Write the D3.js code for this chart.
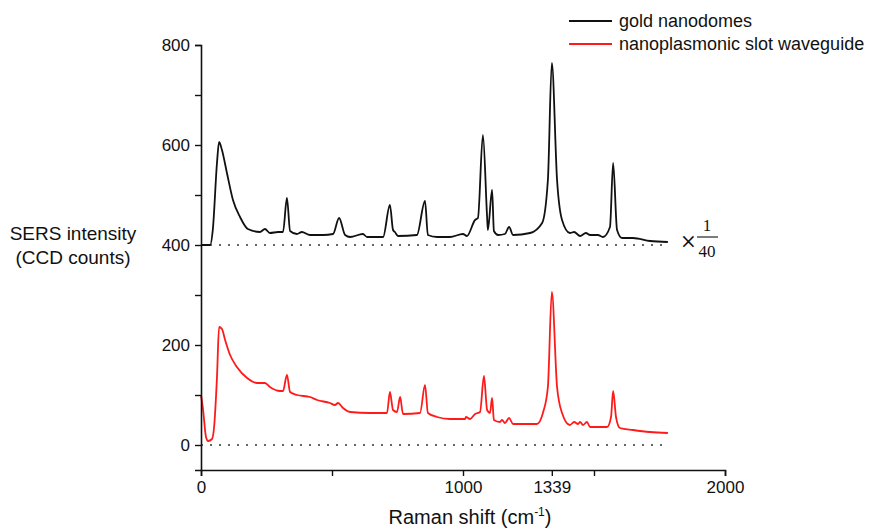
<!DOCTYPE html>
<html>
<head>
<meta charset="utf-8">
<script src="https://cdn.jsdelivr.net/npm/d3@7"></script>
<style>
    body { margin: 0; background: #fff; }
    text { font-family: "Liberation Sans", Arial, sans-serif; fill: #111; }
</style>
</head>
<body>
<svg id="vis-container"></svg>
<script>
const WIDTH = 872
const HEIGHT = 532
const CONTAINER = d3.select("#vis-container")

// gold nanodomes, plotted as 400 + counts / 40
const goldShift = [0, 35, 45, 61, 69, 80, 99, 122, 149, 179, 225, 244, 263, 294, 313, 328, 340, 366, 385, 416, 466, 504, 527, 550, 569,
    618, 634, 695, 721, 733, 740, 752, 824, 855, 866, 901, 950, 1000, 1015, 1046, 1057, 1076, 1092, 1095, 1111, 1118, 1134, 1160, 1176, 1191,
    1256, 1302, 1324, 1339, 1359, 1378, 1408, 1424, 1447, 1469, 1485, 1515, 1534, 1561, 1573, 1588, 1607, 1649, 1714, 1782]
const goldValue = [400, 400, 430, 564, 606, 590, 544, 490, 456, 432, 426, 432, 424, 426, 426, 494, 428, 422, 426, 420, 420, 422, 454, 420, 416,
    422, 416, 416, 480, 430, 426, 418, 420, 488, 420, 416, 416, 422, 418, 450, 454, 620, 456, 430, 510, 428, 420, 422, 436, 420,
    424, 444, 530, 764, 530, 450, 424, 426, 418, 424, 420, 420, 416, 436, 564, 430, 414, 414, 408, 406]

// nanoplasmonic slot waveguide
const slotShift = [0, 8, 19, 27, 42, 50, 61, 69, 80, 92, 111, 137, 176, 214, 244, 263, 302, 313, 328, 340, 366, 416, 443, 492, 511, 523, 542, 569,
    645, 710, 721, 733, 748, 760, 771, 836, 855, 866, 901, 950, 1008, 1011, 1027, 1046, 1065, 1080, 1092, 1103, 1111, 1118,
    1141, 1149, 1160, 1176, 1191, 1282, 1305, 1324, 1339, 1359, 1378, 1408, 1424, 1439, 1447, 1458, 1473, 1485,
    1550, 1565, 1573, 1584, 1599, 1649, 1714, 1782]
const slotValue = [100, 70, 16, 8, 12, 36, 136, 236, 232, 210, 180, 156, 134, 124, 124, 116, 108, 108, 140, 106, 100, 96, 90, 84, 80, 84, 74, 66,
    64, 64, 106, 70, 66, 96, 62, 64, 120, 64, 56, 52, 52, 56, 52, 62, 66, 138, 70, 64, 94, 50,
    46, 50, 44, 54, 42, 42, 64, 116, 306, 116, 64, 40, 46, 42, 46, 40, 46, 36,
    36, 56, 108, 56, 34, 30, 26, 24]

const series = [
    { name: "gold nanodomes", color: "#111", x: goldShift, y: goldValue, base: 400 },
    { name: "nanoplasmonic slot waveguide", color: "#ff1a1a", x: slotShift, y: slotValue, base: 0 }
]

const xTicks = [0, 500, 1000, 1339, 1500, 2000]
const xTickLabels = ["0", "", "1000", "1339", "", "2000"]
const yTicks = [0, 100, 200, 300, 400, 500, 600, 700, 800]
const yTickLabels = ["0", "", "200", "", "400", "", "600", "", "800"]

CONTAINER.attr('width', WIDTH).attr('height', HEIGHT)

const x = d3.scaleLinear().domain([0, 2000]).range([201, 725])
const y = d3.scaleLinear().domain([-50, 800]).range([470, 45])

// baselines
series.forEach(s => {
    CONTAINER.append('line')
        .attr('x1', x(0)).attr('x2', x(1782))
        .attr('y1', y(s.base)).attr('y2', y(s.base))
        .attr('stroke', '#333')
        .attr('stroke-width', 1.6)
        .attr('stroke-dasharray', '2,7')
})

// spectra
const line = d3.line()
    .x(d => x(d[0]))
    .y(d => y(d[1]))
    .curve(d3.curveMonotoneX)

series.forEach(s => {
    CONTAINER.append('path')
        .datum(s.x.map((v, i) => [v, s.y[i]]))
        .attr('d', line)
        .attr('fill', 'none')
        .attr('stroke', s.color)
        .attr('stroke-width', 1.8)
        .attr('stroke-linejoin', 'round')
})

// axes
const xAxis = d3.axisBottom(x)
    .tickValues(xTicks)
    .tickFormat((d, i) => xTickLabels[i])
    .tickSize(6)
    .tickPadding(5)
const yAxis = d3.axisLeft(y)
    .tickValues(yTicks)
    .tickFormat((d, i) => yTickLabels[i])
    .tickSize(6)
    .tickPadding(5)

const gx = CONTAINER.append('g').attr('transform', `translate(0,${y(-50)})`).call(xAxis)
const gy = CONTAINER.append('g').attr('transform', `translate(${x(0)},0)`).call(yAxis)

;[gx, gy].forEach(g => {
    g.select('.domain').attr('stroke', '#111').attr('stroke-width', 1.6)
    g.selectAll('.tick line').attr('stroke', '#111').attr('stroke-width', 1.4)
    g.selectAll('.tick text')
        .attr('font-size', 17)
        .attr('font-family', '"Liberation Sans", Arial, sans-serif')
        .attr('fill', '#111')
})

// axis titles
CONTAINER.append('text')
    .attr('x', 470).attr('y', 524)
    .attr('text-anchor', 'middle')
    .attr('font-size', 20)
    .html('Raman shift (cm<tspan dy="-8" font-size="12">-1</tspan><tspan dy="8">)</tspan>')

const yTitle = CONTAINER.append('text')
    .attr('text-anchor', 'middle')
    .attr('font-size', 19)
yTitle.append('tspan').attr('x', 73).attr('y', 240).text('SERS intensity')
yTitle.append('tspan').attr('x', 73).attr('y', 264).text('(CCD counts)')

// scale factor for gold
const scaleNote = CONTAINER.append('g')
scaleNote.append('text')
    .attr('x', 680).attr('y', 248)
    .attr('font-size', 20)
    .style('font-family', '"DejaVu Serif", serif')
    .text('×')
scaleNote.append('text')
    .attr('x', 707).attr('y', 231)
    .attr('text-anchor', 'middle')
    .attr('font-size', 17)
    .style('font-family', '"Liberation Serif", serif')
    .text('1')
scaleNote.append('line')
    .attr('x1', 697).attr('x2', 718)
    .attr('y1', 237).attr('y2', 237)
    .attr('stroke', '#111').attr('stroke-width', 1.1)
scaleNote.append('text')
    .attr('x', 707).attr('y', 257)
    .attr('text-anchor', 'middle')
    .attr('font-size', 17)
    .style('font-family', '"Liberation Serif", serif')
    .text('40')

// legend
const legend = CONTAINER.append('g')
series.forEach((s, i) => {
    const ly = 21 + i * 23
    legend.append('line')
        .attr('x1', 569).attr('x2', 612)
        .attr('y1', ly).attr('y2', ly)
        .attr('stroke', s.color)
        .attr('stroke-width', 1.8)
    legend.append('text')
        .attr('x', 619).attr('y', ly + 6)
        .attr('font-size', 18)
        .text(s.name)
})
</script>
</body>
</html>
